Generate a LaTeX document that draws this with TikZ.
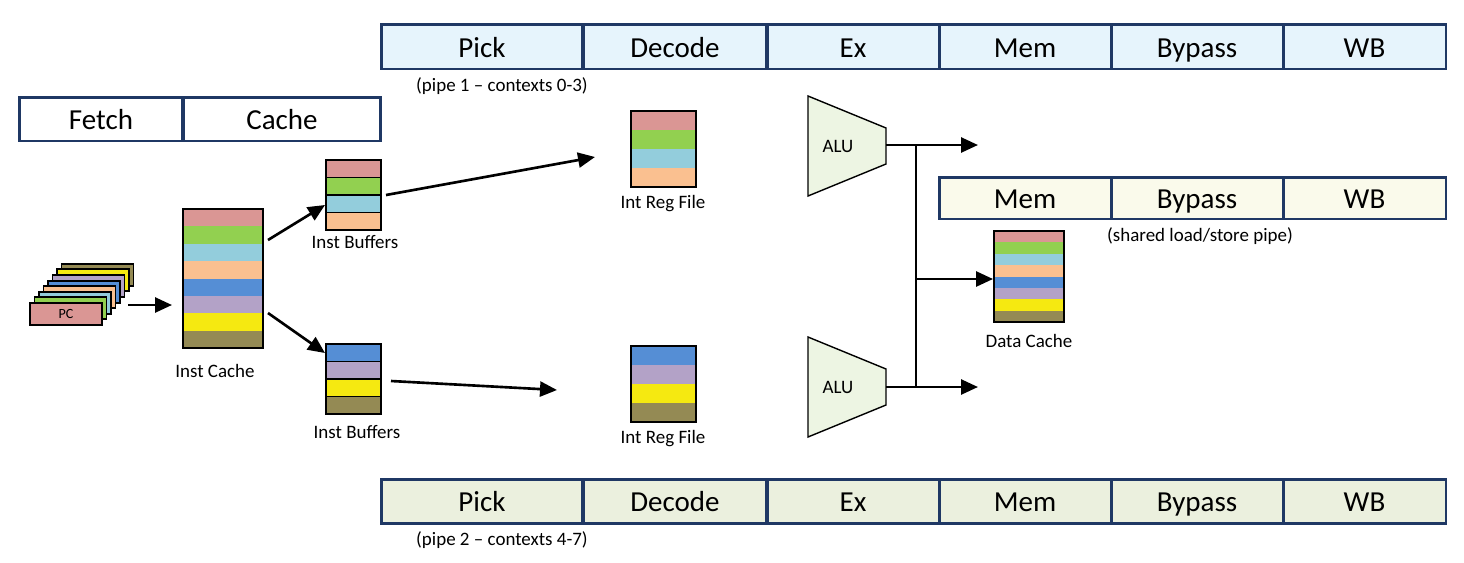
\documentclass[tikz,border=0pt]{standalone}
\usepackage{fontspec}
\setmainfont{Carlito}
\usetikzlibrary{arrows.meta}
\definecolor{navy}{HTML}{1F3864}
\definecolor{pk}{HTML}{DA9694}
\definecolor{gr}{HTML}{92D050}
\definecolor{lb}{HTML}{93CDDC}
\definecolor{pe}{HTML}{FAC090}
\definecolor{bl}{HTML}{558ED5}
\definecolor{lv}{HTML}{B3A2C7}
\definecolor{ye}{HTML}{F5E911}
\definecolor{ol}{HTML}{948A54}
\definecolor{pipeA}{HTML}{E6F4FC}
\definecolor{pipeB}{HTML}{EBF0DE}
\definecolor{pipeC}{HTML}{FAFAEB}
\definecolor{alufill}{HTML}{EDF5E3}
\tikzset{
  stagebox/.style={draw=navy, line width=1.7pt, inner sep=0pt,
    font=\fontsize{16.5}{18}\selectfont, text height=14pt, text depth=2pt},
  lbl/.style={font=\fontsize{10.8}{12}\selectfont, inner sep=0pt},
  blk/.style={draw=black, line width=1.1pt, inner sep=0pt},
  arr/.style={line width=1.5pt, -{Triangle[length=0.34cm,width=0.3cm]}},
  bus/.style={line width=1.5pt},
  alubox/.style={draw=black, line width=0.8pt, fill=alufill}
}
\begin{document}
\begin{tikzpicture}[x=0.02cm,y=-0.02cm]
\useasboundingbox (0,0) rectangle (1464,562);

% ---------- top pipe ----------
\node[stagebox, fill=pipeA, minimum width=4.04cm, minimum height=0.9cm] (t1) at (482,46.5) {Pick};
\node[stagebox, fill=pipeA, minimum width=3.68cm, minimum height=0.9cm] (t2) at (675,46.5) {Decode};
\node[stagebox, fill=pipeA, minimum width=3.44cm, minimum height=0.9cm] (t3) at (853,46.5) {Ex};
\node[stagebox, fill=pipeA, minimum width=3.44cm, minimum height=0.9cm] (t4) at (1025,46.5) {Mem};
\node[stagebox, fill=pipeA, minimum width=3.44cm, minimum height=0.9cm] (t5) at (1197,46.5) {Bypass};
\node[stagebox, fill=pipeA, minimum width=3.26cm, minimum height=0.9cm] (t6) at (1364.5,46.5) {WB};
\node[lbl] (p1lbl) at (502,86) {(pipe 1 -- contexts 0-3)};

% ---------- bottom pipe ----------
\node[stagebox, fill=pipeB, minimum width=4.04cm, minimum height=0.88cm] (b1) at (482,501) {Pick};
\node[stagebox, fill=pipeB, minimum width=3.68cm, minimum height=0.88cm] (b2) at (675,501) {Decode};
\node[stagebox, fill=pipeB, minimum width=3.44cm, minimum height=0.88cm] (b3) at (853,501) {Ex};
\node[stagebox, fill=pipeB, minimum width=3.44cm, minimum height=0.88cm] (b4) at (1025,501) {Mem};
\node[stagebox, fill=pipeB, minimum width=3.44cm, minimum height=0.88cm] (b5) at (1197,501) {Bypass};
\node[stagebox, fill=pipeB, minimum width=3.26cm, minimum height=0.88cm] (b6) at (1364.5,501) {WB};
\node[lbl] (p2lbl) at (502,540) {(pipe 2 -- contexts 4-7)};

% ---------- shared pipe ----------
\node[stagebox, fill=pipeC, minimum width=3.44cm, minimum height=0.84cm] (s1) at (1025,198) {Mem};
\node[stagebox, fill=pipeC, minimum width=3.44cm, minimum height=0.84cm] (s2) at (1197,198) {Bypass};
\node[stagebox, fill=pipeC, minimum width=3.26cm, minimum height=0.84cm] (s3) at (1364.5,198) {WB};
\node[lbl] (slbl) at (1200,236) {(shared load/store pipe)};

% ---------- fetch ----------
\node[stagebox, fill=white, minimum width=3.28cm, minimum height=0.88cm] (f1) at (101,119) {Fetch};
\node[stagebox, fill=white, minimum width=3.96cm, minimum height=0.88cm] (f2) at (282,119) {Cache};

% ---------- PC stack ----------
\foreach \c/\i in {ol/7,ye/6,lv/5,bl/4,pe/3,lb/2,gr/1}{
  \draw[blk, fill=\c] ({30+4.5*\i},{303-5.6*\i}) rectangle ({102+4.5*\i},{325-5.6*\i});
}
\node[blk, fill=pk, minimum width=1.44cm, minimum height=0.44cm, font=\fontsize{8}{9}\selectfont] (pc) at (66,314) {PC};

% ---------- Inst cache ----------
\foreach \c [count=\i from 0] in {pk,gr,lb,pe,bl,lv,ye,ol}{
  \fill[\c] (183,{209+\i*17.375}) rectangle (263,{209+(\i+1)*17.375});
}
\node[blk, minimum width=1.6cm, minimum height=2.78cm] (ic) at (223,278.5) {};
\node[lbl] (iclbl) at (215,371) {Inst Cache};

% ---------- Inst buffers ----------
\foreach \c [count=\i from 0] in {pk,gr,lb,pe}{
  \draw[blk, fill=\c] (326,{160+\i*17.5}) rectangle (381,{160+(\i+1)*17.5});
}
\node[blk, minimum width=1.1cm, minimum height=1.4cm] (ib1) at (353.5,195) {};
\node[lbl] (ib1lbl) at (355,242) {Inst Buffers};
\foreach \c [count=\i from 0] in {bl,lv,ye,ol}{
  \draw[blk, fill=\c] (326,{344+\i*17.5}) rectangle (381,{344+(\i+1)*17.5});
}
\node[blk, minimum width=1.1cm, minimum height=1.4cm] (ib2) at (353.5,379) {};
\node[lbl] (ib2lbl) at (357,432) {Inst Buffers};

% ---------- Int reg files ----------
\foreach \c [count=\i from 0] in {pk,gr,lb,pe}{
  \fill[\c] (631,{111+\i*19}) rectangle (696,{111+(\i+1)*19});
}
\node[blk, minimum width=1.3cm, minimum height=1.52cm] (rf1) at (663.5,149) {};
\node[lbl] (rf1lbl) at (663,204) {Int Reg File};
\foreach \c [count=\i from 0] in {bl,lv,ye,ol}{
  \fill[\c] (631,{346+\i*19}) rectangle (696,{346+(\i+1)*19});
}
\node[blk, minimum width=1.3cm, minimum height=1.52cm] (rf2) at (663.5,384) {};
\node[lbl] (rf2lbl) at (663,439) {Int Reg File};

% ---------- Data cache ----------
\foreach \c [count=\i from 0] in {pk,gr,lb,pe,bl,lv,ye,ol}{
  \fill[\c] (994,{231+\i*11.375}) rectangle (1064,{231+(\i+1)*11.375});
}
\node[blk, minimum width=1.4cm, minimum height=1.82cm] (dc) at (1029,276.5) {};
\node[lbl] (dclbl) at (1029,341) {Data Cache};

% ---------- ALUs ----------
\draw[alubox] (808,96) -- (886,128) -- (886,164) -- (808,196) -- cycle;
\node[lbl] (alu1) at (838,146) {ALU};
\draw[alubox] (808,337) -- (886,369) -- (886,405) -- (808,437) -- cycle;
\node[lbl] (alu2) at (838,387) {ALU};

% ---------- connectors ----------
\coordinate (pcout) at (128,305);
\coordinate (icin) at (172,305);
\draw[arr] (pcout) -- (icin);

\coordinate (icout1) at (268,240);
\coordinate (ib1in) at (325,205);
\draw[arr] (icout1) -- (ib1in);
\coordinate (icout2) at (268,313);
\coordinate (ib2in) at (325,353);
\draw[arr] (icout2) -- (ib2in);

\coordinate (ib1out) at (386,195);
\coordinate (rf1in) at (595,157);
\draw[arr] (ib1out) -- (rf1in);
\coordinate (ib2out) at (391,381);
\coordinate (rf2in) at (557,390);
\draw[arr] (ib2out) -- (rf2in);

\coordinate (alu1out) at (886,145);
\coordinate (alu2out) at (886,387);
\coordinate (bustop) at (916,145);
\coordinate (busbot) at (916,387);
\coordinate (busmid) at (916,279);
\coordinate (end1) at (978,145);
\coordinate (end2) at (978,387);
\draw[arr] (alu1out) -- (end1);
\draw[arr] (alu2out) -- (end2);
\draw[bus] (bustop) -- (busbot);
\draw[arr] (busmid) -- (dc.west |- busmid);
\end{tikzpicture}
\end{document}
